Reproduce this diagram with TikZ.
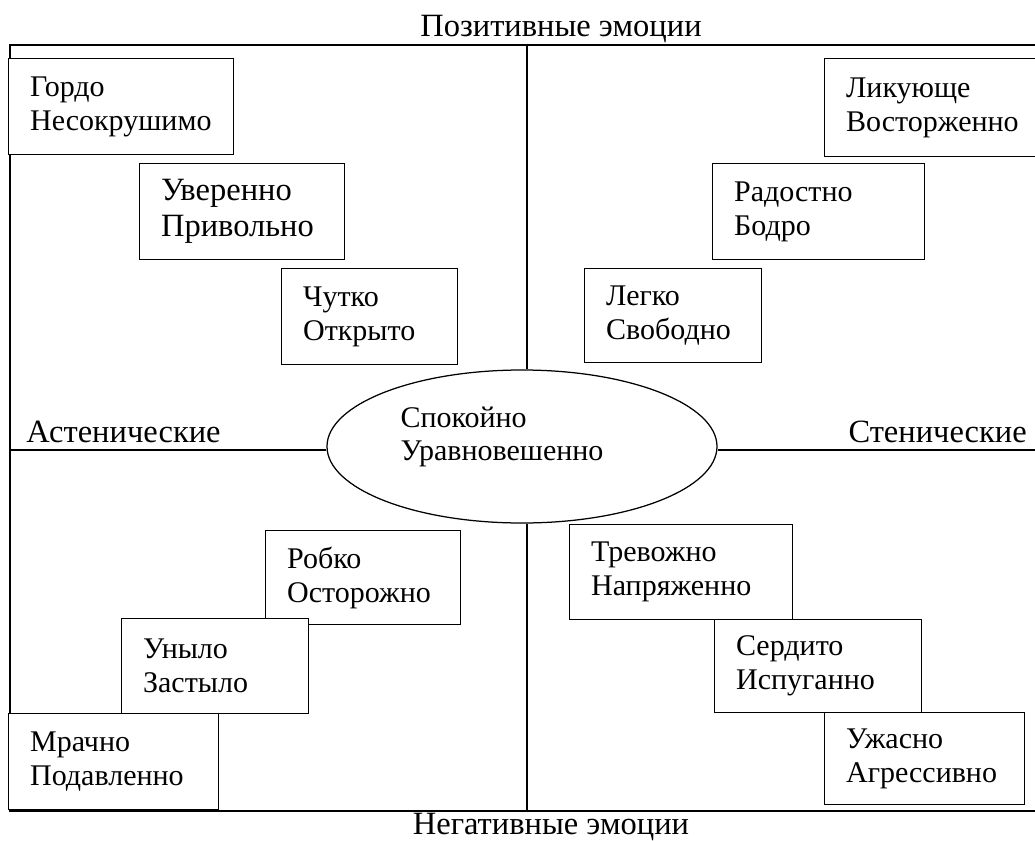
\documentclass[tikz,border=0pt]{standalone}
\usepackage{fontspec}
\setmainfont{Liberation Serif}
\usetikzlibrary{shapes.geometric,positioning}

\begin{document}
\begin{tikzpicture}[x=0.4pt,y=-0.4pt]
\tikzstyle{emo}=[rectangle, draw=black, fill=white, line width=0.5pt,
anchor=north west, align=left, inner xsep=8.6pt, inner ysep=0pt,
font=\fontsize{12}{13.5}\selectfont]
\tikzstyle{axis}=[draw=black, line width=0.8pt]
\tikzstyle{lbl}=[inner sep=0pt, font=\fontsize{13}{15}\selectfont]

\useasboundingbox (0,0) rectangle (1035,841);

\draw[axis] (10,45) rectangle (1045,811);

\node[ellipse, draw=black, fill=white, line width=0.5pt, inner sep=0pt,
minimum width=156pt, minimum height=61.2pt] at (522,446.5) (0) {};
\node[anchor=north west, align=left, inner sep=0pt,
font=\fontsize{12}{13.3}\selectfont] at (400,406) (0t) {Спокойно\\Уравновешенно};

\coordinate (0c1) at (527,45);
\coordinate (0c2) at (527,811);
\coordinate (0c3) at (10,450);
\coordinate (0c4) at (1045,450);
\draw[axis] (0c1) -- (0c1 |- 0.north);
\draw[axis] (0c2) -- (0c2 |- 0.south);
\draw[axis] (0c3) -- (0c3 -| 0.west);
\draw[axis] (0c4) -- (0c4 -| 0.east);

\node[lbl, anchor=base] at (561,36) (pos) {Позитивные эмоции};
\node[lbl, anchor=base] at (551,834) (neg) {Негативные эмоции};
\node[lbl, anchor=base west] at (26,442) (ast) {Астенические};
\node[lbl, anchor=base west] at (848,442) (sten) {Стенические};

% positive
\node[emo, text width=72.8pt, minimum height=38.4pt] at (8,58) (1) {Гордо\\Несокрушимо};
\node[emo, text width=64.8pt, minimum height=38.4pt,
font=\fontsize{13}{14.5}\selectfont] at (139,163) (2) {Уверенно\\Привольно};
\node[emo, text width=53.2pt, minimum height=38.4pt] at (281,268) (3) {Чутко\\Открыто};
\node[emo, text width=71.2pt, minimum height=39.2pt] at (824,58) (4) {Ликующе\\Восторженно};
\node[emo, text width=67.6pt, minimum height=38.4pt] at (712,163) (5) {Радостно\\Бодро};
\node[emo, text width=53.6pt, minimum height=37.6pt] at (584,268) (6) {Легко\\Свободно};

% negative
\node[emo, text width=60.8pt, minimum height=37.6pt] at (265,530) (7) {Робко\\Осторожно};
\node[emo, text width=57.6pt, minimum height=38pt] at (121,618) (8) {Уныло\\Застыло};
\node[emo, text width=66.8pt, minimum height=38.4pt] at (8,713) (9) {Мрачно\\Подавленно};
\node[emo, text width=72pt, minimum height=38pt] at (569,524) (10) {Тревожно\\Напряженно};
\node[emo, text width=65.6pt, minimum height=37.2pt] at (714,619) (11) {Сердито\\Испуганно};
\node[emo, text width=62.8pt, minimum height=36.8pt] at (824,712) (12) {Ужасно\\Агрессивно};

\end{tikzpicture}
\end{document}
